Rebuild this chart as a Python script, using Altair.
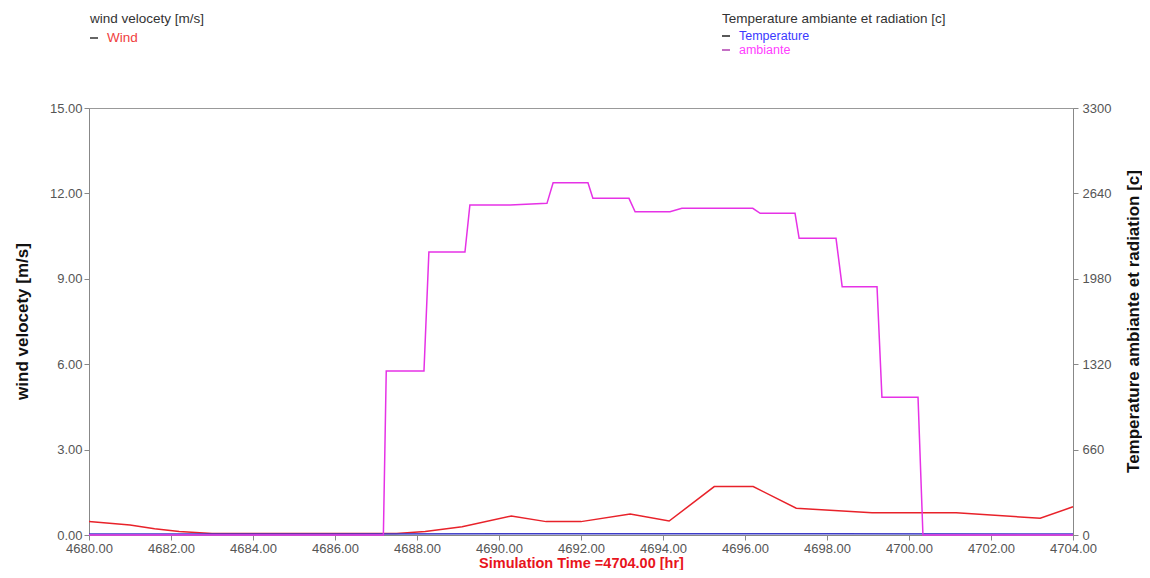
import altair as alt
import pandas as pd

# ---- data ----
wind_t = [4680, 4681, 4681.6, 4682.2, 4683, 4687.5, 4688.2, 4689.1, 4690.3, 4691.15,
          4692, 4693.2, 4694.15, 4695.25, 4696.2, 4697.25, 4699.1, 4701.15, 4703.2, 4704]
wind_v = [0.47, 0.35, 0.22, 0.12, 0.05, 0.05, 0.12, 0.29, 0.67, 0.47,
          0.47, 0.74, 0.49, 1.70, 1.70, 0.94, 0.78, 0.78, 0.59, 0.99]

amb_t = [4680, 4687.18, 4687.25, 4688.17, 4688.29, 4689.17, 4689.29, 4690.27, 4691.17, 4691.32,
         4692.17, 4692.29, 4693.17, 4693.32, 4694.17, 4694.46, 4696.19, 4696.37, 4697.22, 4697.32,
         4698.22, 4698.37, 4699.22, 4699.34, 4700.22, 4700.34, 4704]
amb_v = [0, 0, 1267, 1267, 2187, 2187, 2550, 2550, 2563, 2722,
         2722, 2602, 2602, 2498, 2498, 2525, 2525, 2486, 2486, 2293,
         2293, 1919, 1919, 1064, 1064, 0, 0]

temp_t = [4680, 4686, 4692, 4698, 4704]
temp_v = [8, 8, 9, 9, 8]

x_ticks = [4680, 4682, 4684, 4686, 4688, 4690, 4692, 4694, 4696, 4698, 4700, 4702, 4704]
left_ticks = [0, 3, 6, 9, 12, 15]
right_ticks = [0, 660, 1320, 1980, 2640, 3300]

series_names = ["Temperature", "ambiante"]
series_colors = ["#3c3cc8", "#e632e6"]
wind_color = "#e8222a"

FONT = "Liberation Sans"

wind_df = pd.DataFrame({"t": wind_t, "wind": wind_v})
right_df = pd.concat([
    pd.DataFrame({"t": temp_t, "value": temp_v, "series": "Temperature"}),
    pd.DataFrame({"t": amb_t, "value": amb_v, "series": "ambiante"}),
])

x_enc = alt.X("t:Q",
              scale=alt.Scale(domain=[4680, 4704], nice=False, zero=False),
              axis=alt.Axis(values=x_ticks, format=".2f", labelFlush=False,
                            labelFontSize=13, labelPadding=2,
                            title="Simulation Time =4704.00 [hr]",
                            titleColor="#e8141c", titleFontSize=14.5, titleFontWeight="bold",
                            titleX=492, titleY=35, titleAlign="center",
                            titleBaseline="bottom"))

left = alt.Chart(wind_df).mark_line(color=wind_color, strokeWidth=1.5).encode(
    x=x_enc,
    y=alt.Y("wind:Q",
            scale=alt.Scale(domain=[0, 15], nice=False),
            axis=alt.Axis(values=left_ticks, format=".2f", orient="left", labelPadding=2,
                          labelFontSize=13,
                          title="wind velocety [m/s]",
                          titleX=-67, titleY=213, titleAngle=270, titleAlign="center",
                          titleBaseline="middle",
                          titleFontSize=17, titleFontWeight="bold", titleColor="#111")),
)

right = alt.Chart(right_df).mark_line(strokeWidth=1.5).encode(
    x=alt.X("t:Q", scale=alt.Scale(domain=[4680, 4704], nice=False, zero=False)),
    y=alt.Y("value:Q",
            scale=alt.Scale(domain=[0, 3300], nice=False),
            axis=alt.Axis(values=right_ticks, format="d", orient="right", labelPadding=4,
                          labelFontSize=13,
                          title="Temperature ambiante et radiation [c]",
                          titleX=60, titleY=213, titleAngle=270, titleAlign="center",
                          titleBaseline="middle",
                          titleFontSize=17, titleFontWeight="bold", titleColor="#111")),
    color=alt.Color("series:N", scale=alt.Scale(domain=series_names, range=series_colors),
                    legend=None),
    order=alt.Order("t:Q"),
)


def txt(label, x, y, color, size=13.5):
    return alt.Chart(alt.Data(values=[{"label": label}])).mark_text(
        align="left", baseline="middle", font=FONT, fontSize=size, color=color
    ).encode(x=alt.value(x), y=alt.value(y), text="label:N")


def dash(x, y, color):
    return alt.Chart(alt.Data(values=[{"d": 1}])).mark_rule(
        color=color, strokeWidth=1.5
    ).encode(x=alt.value(x), x2=alt.value(x + 8), y=alt.value(y))


legend_layers = [
    txt("wind velocety [m/s]", 1, -89, "#333"),
    dash(1, -70, "#333"),
    txt("Wind", 18, -70, "#f04040"),
    txt("Temperature ambiante et radiation [c]", 633, -89, "#333"),
    dash(633, -72, "#222"),
    txt("Temperature", 650, -72, "#3a3aff", 12.5),
    dash(633, -58, "#b040b0"),
    txt("ambiante", 650, -58, "#ff40ff", 12.5),
]

chart = alt.layer(left, right, *legend_layers).resolve_scale(
    y="independent", color="independent"
).properties(
    width=984, height=427,
    autosize=alt.AutoSizeParams(type="none"),
    padding={"left": 81, "top": 100, "right": 69, "bottom": 35},
).configure_view(
    stroke="#999", strokeWidth=1
).configure_axis(
    grid=False, domainColor="#888", tickColor="#888", tickSize=5,
    labelColor="#555", labelFont=FONT, labelFontSize=13.5,
    titleFont=FONT,
)

chart.save("out.html", embed_options={"renderer": "svg", "actions": False})
